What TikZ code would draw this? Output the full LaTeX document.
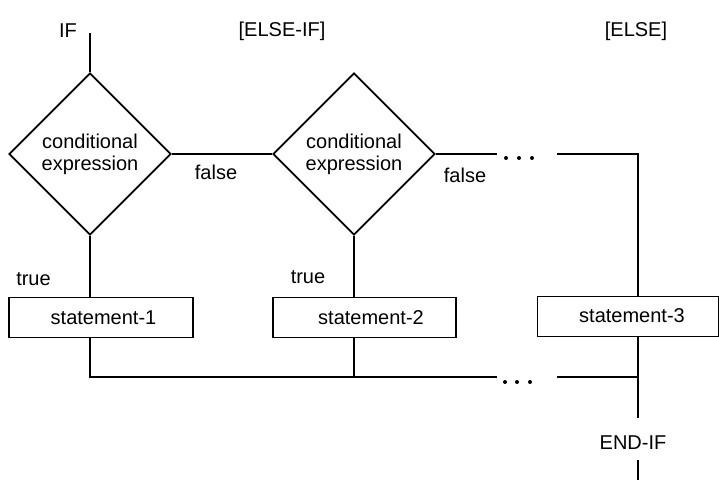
\documentclass[tikz,border=0pt]{standalone}
\usepackage{fontspec}
\setmainfont{Liberation Sans}
\usetikzlibrary{shapes.geometric}
\begin{document}
\begin{tikzpicture}[x=1pt,y=-1pt,line width=1.8pt,
  every node/.style={font=\fontsize{20}{22}\selectfont},
  cond/.style={draw,shape=diamond,minimum width=162pt,minimum height=162pt,inner sep=0pt,align=center},
  stbox/.style={draw,rectangle,minimum height=40pt,inner sep=0pt},
  lbl/.style={inner sep=0pt},
  dotmark/.style={fill,circle,inner sep=0pt,minimum size=4pt}]
\useasboundingbox (0,0) rectangle (719,484);
% labels on top
\node[lbl] (if) at (68,31) {IF};
\node[lbl] (elseif) at (282,31) {[ELSE-IF]};
\node[lbl] (else) at (636,31) {[ELSE]};
% diamonds
\node[cond] (d1) at (90,154) {conditional\\expression};
\node[cond] (d2) at (354,154) {conditional\\expression};
% boxes
\node[stbox,minimum width=184pt] (s1) at (101,317.5) {};
\node[stbox,minimum width=183pt] (s2) at (364.5,317.5) {};
\node[stbox,minimum width=181pt] (s3) at (628,316.5) {};
\node[lbl] (s1t) at (103.5,318) {statement-1};
\node[lbl] (s2t) at (371,318) {statement-2};
\node[lbl] (s3t) at (632,316) {statement-3};
% labels
\node[lbl] (f1) at (216,172) {false};
\node[lbl] (f2) at (465,175) {false};
\node[lbl] (t1) at (33.5,279) {true};
\node[lbl] (t2) at (308,277) {true};
\node[lbl] (endif) at (633,443) {END-IF};
% coordinates
\coordinate (iftop) at (90,33);
\coordinate (a1) at (497,154);
\coordinate (a2) at (557,154);
\coordinate (c3) at (638,154);
\coordinate (b0) at (90,377);
\coordinate (b1) at (354,377);
\coordinate (b2) at (497,377);
\coordinate (b3) at (557,377);
\coordinate (b4) at (638,377);
\coordinate (e1) at (638,418);
\coordinate (e2) at (638,460);
\coordinate (e3) at (638,480);
% connectors
\draw (iftop) -- (d1.north);
\draw (d1.east) -- (d2.west);
\draw (d1.south) -- (d1.south |- s1.north);
\draw (d2.south) -- (d2.south |- s2.north);
\draw (d2.east) -- (a1);
\node[dotmark] (p1) at (506,158) {};
\node[dotmark] (p2) at (519,158) {};
\node[dotmark] (p3) at (532,158) {};
\draw (a2) -- (c3) -- (c3 |- s3.north);
\draw (b0 |- s1.south) -- (b0) -- (b2);
\draw (b1 |- s2.south) -- (b1);
\node[dotmark] (q1) at (505,382) {};
\node[dotmark] (q2) at (517,382) {};
\node[dotmark] (q3) at (530,382) {};
\draw (b3) -- (b4);
\draw (c3 |- s3.south) -- (e1);
\draw (e2) -- (e3);
\end{tikzpicture}
\end{document}
